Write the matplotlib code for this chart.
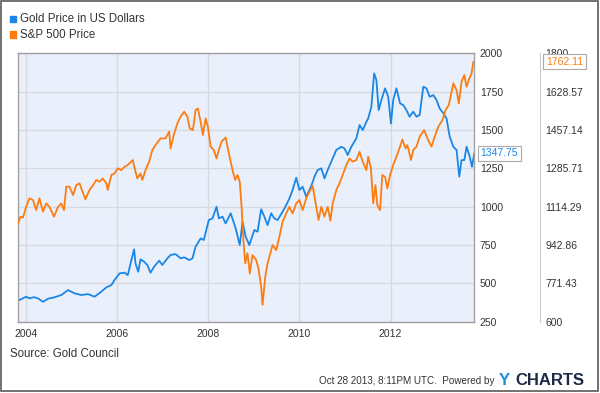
import numpy as np
import matplotlib
matplotlib.use("Agg")
from matplotlib import pyplot as plt
from matplotlib import transforms

plt.rcParams['font.family'] = ['Liberation Sans', 'DejaVu Sans']

# gold price, USD per ounce
gold_t = [2003.82, 2004.00, 2004.07, 2004.17, 2004.26, 2004.37, 2004.48, 2004.62, 2004.77, 2004.92,
          2005.06, 2005.21, 2005.36, 2005.50, 2005.65, 2005.76, 2005.87, 2005.94, 2006.05, 2006.16,
          2006.23, 2006.31, 2006.37, 2006.40, 2006.46, 2006.51, 2006.59, 2006.66, 2006.73, 2006.81,
          2006.92, 2006.99, 2007.10, 2007.17, 2007.28, 2007.39, 2007.47, 2007.58, 2007.65, 2007.72,
          2007.83, 2007.90, 2008.01, 2008.09, 2008.18, 2008.23, 2008.31, 2008.38, 2008.49, 2008.54,
          2008.60, 2008.69, 2008.75, 2008.82, 2008.90, 2009.01, 2009.08, 2009.16, 2009.23, 2009.30,
          2009.38, 2009.45, 2009.52, 2009.63, 2009.71, 2009.78, 2009.85, 2009.93, 2010.00, 2010.07,
          2010.15, 2010.26, 2010.33, 2010.40, 2010.48, 2010.55, 2010.62, 2010.73, 2010.81, 2010.92,
          2010.99, 2011.06, 2011.14, 2011.25, 2011.32, 2011.39, 2011.47, 2011.51, 2011.58, 2011.64,
          2011.69, 2011.74, 2011.80, 2011.88, 2011.95, 2012.01, 2012.06, 2012.13, 2012.21, 2012.28,
          2012.35, 2012.42, 2012.50, 2012.57, 2012.64, 2012.72, 2012.79, 2012.86, 2012.94, 2013.01,
          2013.08, 2013.16, 2013.23, 2013.30, 2013.38, 2013.45, 2013.51, 2013.56, 2013.62, 2013.67,
          2013.74, 2013.79, 2013.84]
gold_v = [387, 413, 402, 410, 402, 380, 400, 409, 424, 456,
          435, 424, 430, 413, 446, 474, 489, 522, 565, 570,
          554, 652, 722, 630, 576, 657, 641, 620, 570, 609,
          648, 620, 663, 685, 691, 663, 670, 652, 663, 739,
          793, 783, 913, 924, 1000, 924, 935, 891, 957, 913,
          859, 750, 902, 804, 750, 848, 837, 983, 935, 880,
          957, 924, 913, 967, 1011, 1054, 1109, 1189, 1109, 1130,
          1065, 1135, 1196, 1239, 1250, 1185, 1239, 1315, 1370, 1391,
          1380, 1337, 1391, 1446, 1533, 1500, 1554, 1576, 1652, 1870,
          1826, 1630, 1696, 1772, 1717, 1543, 1696, 1772, 1674, 1663,
          1630, 1587, 1620, 1587, 1598, 1783, 1772, 1717, 1728, 1696,
          1641, 1609, 1576, 1457, 1391, 1370, 1196, 1304, 1304, 1391,
          1326, 1261, 1347.75]

# S&P 500 index level
spx_t = [2003.82, 2003.88, 2003.93, 2004.00, 2004.07, 2004.15, 2004.22, 2004.29, 2004.37, 2004.44,
         2004.51, 2004.61, 2004.70, 2004.77, 2004.83, 2004.88, 2004.95, 2005.03, 2005.10, 2005.17,
         2005.25, 2005.30, 2005.39, 2005.47, 2005.54, 2005.61, 2005.68, 2005.76, 2005.79, 2005.87,
         2005.94, 2006.01, 2006.09, 2006.16, 2006.23, 2006.34, 2006.40, 2006.44, 2006.51, 2006.55,
         2006.62, 2006.70, 2006.77, 2006.84, 2006.95, 2007.06, 2007.14, 2007.17, 2007.25, 2007.32,
         2007.39, 2007.47, 2007.54, 2007.59, 2007.66, 2007.72, 2007.77, 2007.83, 2007.88, 2007.94,
         2007.99, 2008.05, 2008.12, 2008.18, 2008.23, 2008.29, 2008.38, 2008.45, 2008.53, 2008.59,
         2008.64, 2008.69, 2008.73, 2008.77, 2008.81, 2008.86, 2008.91, 2008.97, 2009.05, 2009.10,
         2009.16, 2009.19, 2009.25, 2009.30, 2009.36, 2009.41, 2009.49, 2009.56, 2009.63, 2009.71,
         2009.78, 2009.85, 2009.93, 2010.00, 2010.07, 2010.15, 2010.22, 2010.29, 2010.37, 2010.42,
         2010.48, 2010.55, 2010.62, 2010.68, 2010.73, 2010.81, 2010.88, 2010.95, 2011.03, 2011.10,
         2011.17, 2011.25, 2011.32, 2011.39, 2011.47, 2011.51, 2011.57, 2011.62, 2011.67, 2011.71,
         2011.77, 2011.82, 2011.88, 2011.93, 2011.99, 2012.06, 2012.13, 2012.21, 2012.26, 2012.33,
         2012.37, 2012.45, 2012.50, 2012.57, 2012.64, 2012.74, 2012.81, 2012.90, 2012.97, 2013.05,
         2013.14, 2013.21, 2013.28, 2013.38, 2013.45, 2013.50, 2013.56, 2013.62, 2013.67, 2013.72,
         2013.78, 2013.82, 2013.84]
spx_v = [1040, 1070, 1066, 1114, 1152, 1144, 1099, 1152, 1092, 1129,
         1114, 1070, 1114, 1129, 1099, 1204, 1204, 1166, 1211, 1219,
         1174, 1147, 1189, 1211, 1234, 1226, 1241, 1219, 1189, 1256,
         1263, 1286, 1278, 1293, 1301, 1323, 1271, 1241, 1263, 1234,
         1278, 1316, 1368, 1390, 1420, 1420, 1450, 1375, 1442, 1487,
         1517, 1539, 1517, 1465, 1457, 1547, 1554, 1494, 1435, 1509,
         1472, 1383, 1368, 1330, 1368, 1405, 1424, 1353, 1278, 1234,
         1256, 1226, 1114, 965, 861, 906, 816, 898, 876, 839,
         757, 675, 801, 861, 906, 943, 920, 980, 1047, 1084,
         1114, 1084, 1129, 1144, 1099, 1152, 1181, 1207, 1114, 1055,
         1114, 1070, 1114, 1052, 1129, 1189, 1219, 1256, 1301, 1330,
         1316, 1323, 1360, 1316, 1278, 1338, 1286, 1129, 1211, 1122,
         1099, 1256, 1248, 1196, 1256, 1301, 1338, 1383, 1415, 1375,
         1390, 1323, 1368, 1383, 1427, 1457, 1420, 1383, 1427, 1472,
         1502, 1547, 1569, 1666, 1636, 1576, 1673, 1703, 1651, 1681,
         1711, 1763, 1762.11]

year_ticks = [2004, 2006, 2008, 2010, 2012]
gold_ticks = [250, 500, 750, 1000, 1250, 1500, 1750, 2000]
spx_ticks = [600, 771.43, 942.86, 1114.29, 1285.71, 1457.14, 1628.57, 1800]

blue = '#1a86e6'
orange = '#fb7d12'
W, H = 600, 393


def fx(px):
    return px / W


def fy(py):
    return 1 - py / H


fig = plt.figure(figsize=(6, 3.93), dpi=100)
ax = fig.add_axes([fx(18), fy(321.7), fx(474.3 - 18), (321.7 - 53.4) / H])
ax.set_facecolor('#eaf0fb')
ax.plot(gold_t, gold_v, color=blue, lw=1.3)
ax.set_xlim(2003.82, 2013.84)
ax.set_ylim(250, 2000)
ax.set_xticks(year_ticks)
ax.set_xticklabels([str(y) for y in year_ticks])
ax.set_yticks(gold_ticks)
ax.grid(True, color='#d6d9de', lw=1)
ax.set_axisbelow(True)
for s in ax.spines.values():
    s.set_color('#a0a0a0')
    s.set_linewidth(1)

ax2 = ax.twinx()
ax2.plot(spx_t, spx_v, color=orange, lw=1.3)
ax2.set_ylim(600, 1800)
ax2.set_yticks(spx_ticks)
ax2.set_yticklabels(['{:g}'.format(v) for v in spx_ticks])
ax2.spines['right'].set_position(('axes', (539.5 - 18) / (474.3 - 18)))
ax2.spines['right'].set_color('#cccccc')
for k in ['top', 'left', 'bottom']:
    ax2.spines[k].set_visible(False)
ax2.tick_params(length=0, labelsize=7.5, colors='#333333', pad=4)

# gold scale sits just right of the plot (twinx resets it, so set it here)
ax.yaxis.tick_right()
ax.tick_params(length=0, labelsize=7.5, colors='#333333', pad=5)
ax.tick_params(axis='y', pad=4)

# last-value flags
tr1 = transforms.blended_transform_factory(ax.transAxes, ax.transData)
ax.text(1.014, gold_v[-1], '{:.2f}'.format(gold_v[-1]), transform=tr1, color=blue,
        fontsize=7.5, va='center', ha='left', zorder=5,
        bbox=dict(boxstyle='square,pad=0.25', fc='white', ec='#aaaaaa', lw=0.8))
tr2 = transforms.blended_transform_factory(ax2.transAxes, ax2.transData)
ax2.text(1.157, spx_v[-1], '{:.2f}'.format(spx_v[-1]), transform=tr2, color=orange,
         fontsize=7.5, va='center', ha='left', zorder=5,
         bbox=dict(boxstyle='square,pad=0.25', fc='white', ec='#aaaaaa', lw=0.8))

# legend
for i, (lab, c) in enumerate([('Gold Price in US Dollars', blue), ('S&P 500 Price', orange)]):
    yc = 19 + i * 15.5
    fig.add_artist(plt.Rectangle((fx(9.5), fy(yc + 3.3)), 6.6 / W, 6.6 / H,
                                 transform=fig.transFigure, color=c))
    fig.text(fx(20.5), fy(yc), lab, fontsize=8.3, color='#333333', va='center', ha='left')

# footer
fig.text(fx(10), fy(354.3), 'Source: Gold Council', fontsize=8.3, color='#333333', va='center')
fig.text(fx(319), fy(380.7), 'Oct 28 2013, 8:11PM UTC.  Powered by', fontsize=7.1,
         color='#333333', va='center')
fig.text(fx(499), fy(380.7), 'Y', fontsize=12, fontweight='bold', color='#1e8fe0', va='center')
fig.text(fx(515.5), fy(380.7), 'CHARTS', fontsize=12, fontweight='bold', color='#1c2a48',
         va='center')

# outer frame
fig.add_artist(plt.Rectangle((fx(0.7), fy(391.3)), fx(597.6), 390.6 / H, transform=fig.transFigure,
                             fill=False, ec='#5a5a5a', lw=1.2))

fig.savefig('out.png', dpi=100)
